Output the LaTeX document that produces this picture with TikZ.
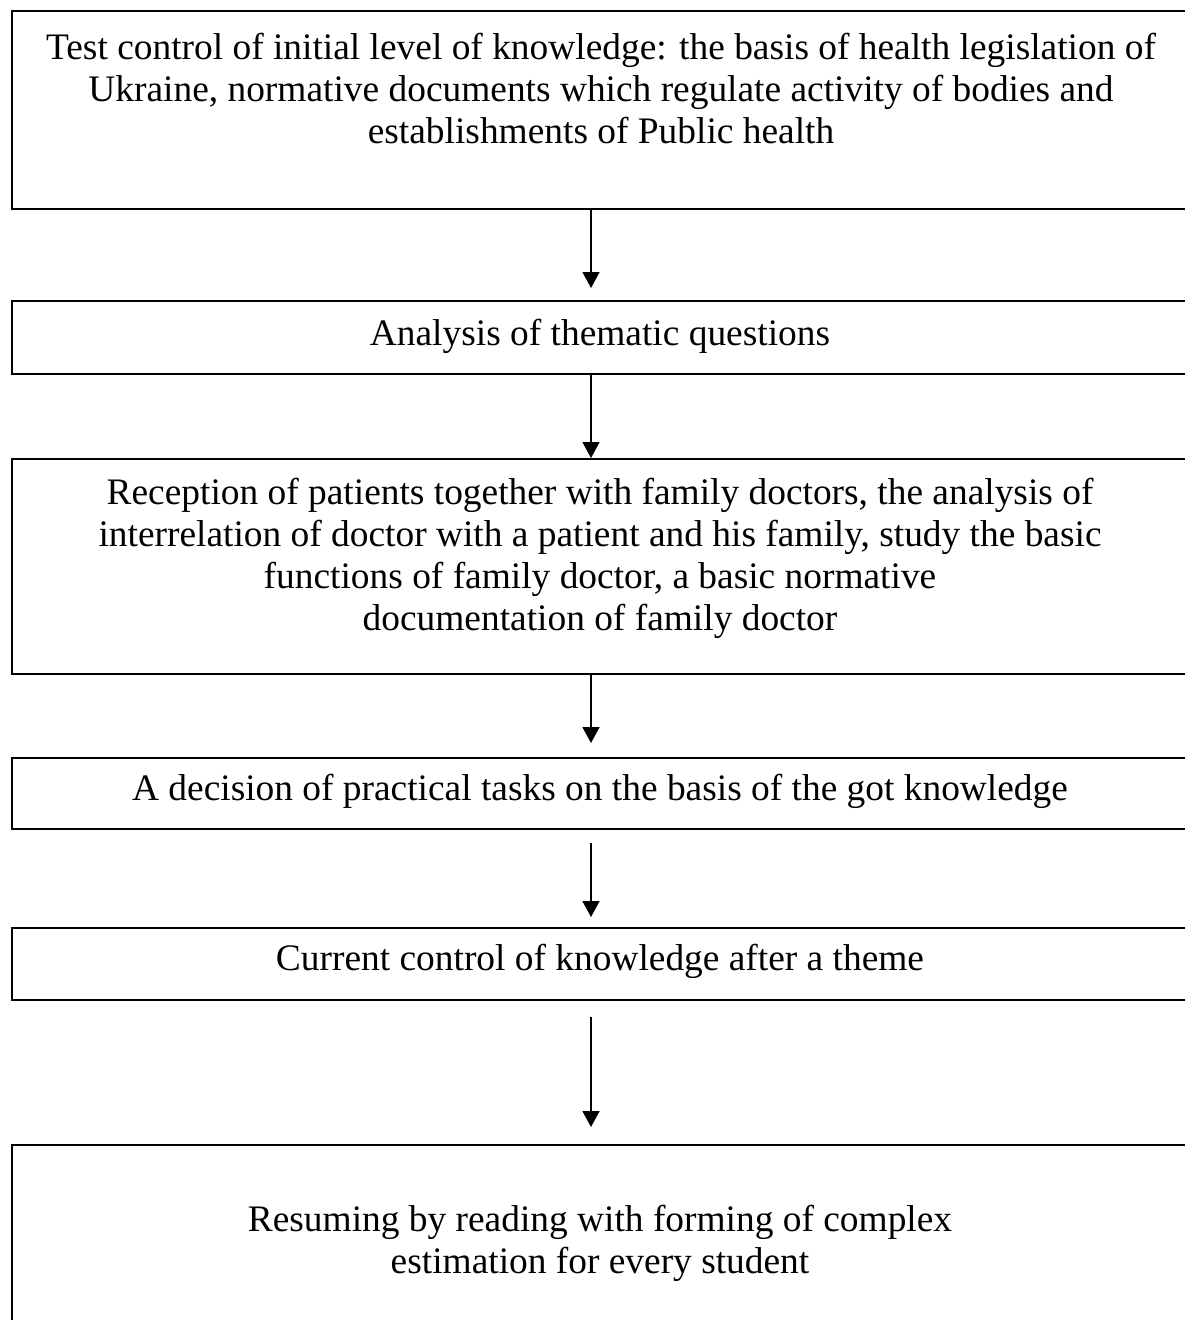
\documentclass[tikz,border=0pt]{standalone}
\usepackage{fontspec}
\setmainfont{Liberation Serif}
\usetikzlibrary{arrows.meta}
\begin{document}
\begin{tikzpicture}[x=1pt,y=-1pt,
  stage/.style={draw, line width=2pt, rectangle, inner sep=0pt,
    anchor=north west, minimum width=1180pt},
  caption/.style={align=center, font=\fontsize{37.4}{42}\selectfont, inner sep=0pt},
  flow/.style={line width=1.6pt, -{Triangle[width=17pt,length=16pt]}}]
\useasboundingbox (0,0) rectangle (1185,1320);
\clip (0,0) rectangle (1185,1320);

% stage frames
\node[stage, minimum height=198pt] (b1) at (10.5,10) {};
\node[stage, minimum height=73pt]  (b2) at (10.5,300) {};
\node[stage, minimum height=215pt] (b3) at (10.5,458) {};
\node[stage, minimum height=71pt]  (b4) at (10.5,757) {};
\node[stage, minimum height=72pt]  (b5) at (10.5,927) {};
\node[stage, minimum height=260pt] (b6) at (10.5,1144) {};

% stage texts
\node[caption] (t1) at (601,89) {Test control of initial level of knowledge: the basis of health legislation of\\
Ukraine, normative documents which regulate activity of bodies and\\
establishments of Public health};
\node[caption] (t2) at (600,336) {Analysis of thematic questions};
\node[caption] (t3) at (600,558) {Reception of patients together with family doctors, the analysis of\\
interrelation of doctor with a patient and his family, study the basic\\
functions of family doctor, a basic normative\\
documentation of family doctor};
\node[caption] (t4) at (600,791) {A decision of practical tasks on the basis of the got knowledge};
\node[caption] (t5) at (600,961) {Current control of knowledge after a theme};
\node[caption] (t6) at (600,1243) {Resuming by reading with forming of complex\\
estimation for every student};

% connectors
\coordinate (ax) at (591,0);
\draw[flow, shorten >=12pt] (b1.south -| ax) -- (b2.north -| ax);
\draw[flow] (b2.south -| ax) -- (b3.north -| ax);
\draw[flow, shorten >=14pt] (b3.south -| ax) -- (b4.north -| ax);
\draw[flow, shorten <=13pt, shorten >=10pt] (b4.south -| ax) -- (b5.north -| ax);
\draw[flow, shorten <=16pt, shorten >=17pt] (b5.south -| ax) -- (b6.north -| ax);
\end{tikzpicture}
\end{document}
